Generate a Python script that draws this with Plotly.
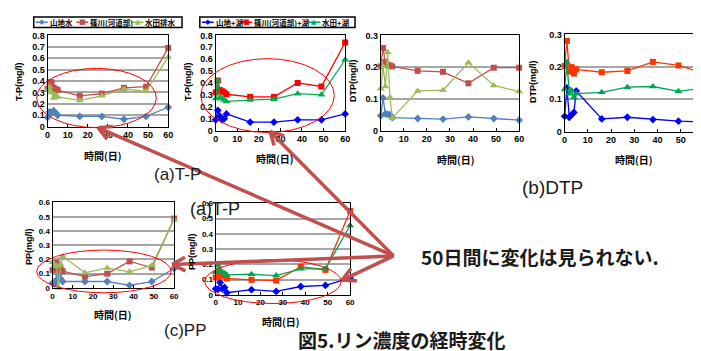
import math
import plotly.graph_objects as go

W, H = 701, 351

days = [0, 1, 2, 3, 4, 5, 16, 27, 38, 49, 60]
x_ticks = [0, 10, 20, 30, 40, 50, 60]

# (a) T-P  left panel
tp1_yama = [0.08, 0.13, 0.12, 0.14, 0.12, 0.10, 0.09, 0.09, 0.065, 0.09, 0.17]
tp1_shino = [0.33, 0.39, 0.39, 0.34, 0.33, 0.32, 0.27, 0.29, 0.34, 0.35, 0.69]
tp1_suiden = [0.32, 0.35, 0.30, 0.25, 0.28, 0.26, 0.23, 0.27, 0.33, 0.31, 0.61]
# (a) T-P  right panel (+湖)
tp2_yama = [0.09, 0.17, 0.12, 0.09, 0.10, 0.14, 0.07, 0.07, 0.09, 0.09, 0.14]
tp2_shino = [0.32, 0.42, 0.34, 0.33, 0.32, 0.305, 0.283, 0.283, 0.40, 0.37, 0.74]
tp2_suiden = [0.27, 0.42, 0.28, 0.27, 0.256, 0.245, 0.256, 0.264, 0.31, 0.30, 0.595]
# (b) DTP left
dtp1_yama = [0.047, 0.103, 0.053, 0.051, 0.050, 0.041, 0.038, 0.036, 0.043, 0.038, 0.033]
dtp1_shino = [0.202, 0.26, 0.216, 0.208, 0.205, 0.202, 0.188, 0.185, 0.149, 0.198, 0.198]
dtp1_suiden = [0.132, 0.202, 0.139, 0.247, 0.105, 0.039, 0.125, 0.127, 0.214, 0.142, 0.123]
# (b) DTP right
dtp2_yama = [0.047, 0.135, 0.044, 0.052, 0.059, 0.125, 0.039, 0.044, 0.037, 0.032, 0.029]
dtp2_shino = [0.202, 0.28, 0.185, 0.199, 0.179, 0.192, 0.183, 0.187, 0.215, 0.204, 0.18]
dtp2_suiden = [0.13, 0.215, 0.117, 0.127, 0.105, 0.117, 0.121, 0.137, 0.139, 0.124, 0.135]
# (c) PP left
pp1_yama = [0.034, 0.027, 0.057, 0.09, 0.063, 0.045, 0.045, 0.045, 0.018, 0.045, 0.136]
pp1_shino = [0.125, 0.13, 0.177, 0.125, 0.13, 0.118, 0.08, 0.10, 0.186, 0.143, 0.487]
pp1_suiden = [0.18, 0.154, 0.154, 0.0, 0.165, 0.222, 0.106, 0.14, 0.113, 0.158, 0.48]
# (c) PP right
pp2_yama = [0.039, 0.035, 0.08, 0.039, 0.048, 0.013, 0.033, 0.022, 0.054, 0.061, 0.109]
pp2_shino = [0.113, 0.12, 0.146, 0.124, 0.13, 0.107, 0.098, 0.093, 0.185, 0.163, 0.55]
pp2_suiden = [0.148, 0.196, 0.163, 0.148, 0.141, 0.13, 0.135, 0.126, 0.17, 0.17, 0.455]

legend1_names = ["山地水", "篠川(河道部)", "水田排水"]
legend2_names = ["山地+湖", "篠川(河道部)+湖", "水田+湖"]

C_XL = ["#4F81BD", "#C0504D", "#9BBB59"]
C_P2 = ["#0000FF", "#FF0000", "#00B050"]
C_P4 = ["#0000FF", "#FF3300", "#00A650"]
SYMS = ["diamond", "square", "triangle-up"]


def fx(p):
    return p / W


def fy(p):
    return 1 - p / H


panels = [
    ([tp1_yama, tp1_shino, tp1_suiden], C_XL, (37, 159), (23, 117), 0.8, True, "T-P(mg/l)", (8, 70), (93, 147), 9),
    ([tp2_yama, tp2_shino, tp2_suiden], C_P2, (207, 338), (23, 121), 0.8, False, "T-P(mg/l)", (179, 70), (267, 150), 9),
    ([dtp1_yama, dtp1_shino, dtp1_suiden], C_XL, (374, 514), (23, 121), 0.3, True, "DTP(mg/l)", (346, 70), (450, 151), 9),
    ([dtp2_yama, dtp2_shino, dtp2_suiden], C_P4, (560, 701), (22, 122), 0.3, True, "DTP(mg/l)", (528, 70), (630, 151), 9),
    ([pp1_yama, pp1_shino, pp1_suiden], C_XL, (42, 165), (195, 283), 0.6, True, "PP(mg/l)", (18, 240), (103, 310), 8),
    ([pp2_yama, pp2_shino, pp2_suiden], C_P4, (207, 343), (196, 290), 0.6, True, "PP(mg/l)", (183, 245), (273, 318), 8),
]

fig = go.Figure()
annotations = []
shapes = []
layout_axes = {}


def note(text, x, y, font, xanchor="center", angle=0):
    annotations.append(dict(x=fx(x), y=fy(y), xref="paper", yref="paper",
                            text=text, showarrow=False, xanchor=xanchor,
                            yanchor="middle", textangle=angle, font=font))


for i, (series, cols, xd, yd, ymax, grid, ytitle, ytpos, xtpos, tfs) in enumerate(panels, start=1):
    xa = "x" if i == 1 else f"x{i}"
    ya = "y" if i == 1 else f"y{i}"
    for s, c, sym in zip(series, cols, SYMS):
        fig.add_trace(go.Scatter(
            x=days, y=s, xaxis=xa, yaxis=ya, mode="lines+markers",
            line=dict(color=c, width=1.3),
            marker=dict(symbol=sym, size=6 if sym != "triangle-up" else 7, color=c),
            showlegend=False, cliponaxis=False))
    tickfont = dict(family="Liberation Sans", size=tfs, color="black", weight="bold")
    layout_axes["xaxis" if i == 1 else f"xaxis{i}"] = dict(
        domain=[fx(xd[0]), fx(xd[1])], range=[0, 60], anchor=ya,
        tickvals=x_ticks, ticks="inside", ticklen=3, tickcolor="black",
        showgrid=False, zeroline=False, showline=True, linecolor="black",
        linewidth=1, mirror=True, tickfont=tickfont)
    layout_axes["yaxis" if i == 1 else f"yaxis{i}"] = dict(
        domain=[fy(yd[1]), fy(yd[0])], range=[0, ymax], anchor=xa,
        dtick=0.1, tick0=0, ticks="", showgrid=grid, gridcolor="#A6A6A6",
        gridwidth=1.5, zeroline=False, showline=True, linecolor="black",
        linewidth=1, mirror=True, tickfont=tickfont)
    note(ytitle, ytpos[0], ytpos[1],
         dict(family="Liberation Sans", size=9, color="black", weight="bold"), angle=-90)
    note("時間(日)", xtpos[0], xtpos[1],
         dict(family="Noto Sans CJK JP", size=10, color="black", weight="bold"))


def add_legend(box, items, names, cols):
    shapes.append(dict(type="rect", xref="paper", yref="paper",
                       x0=fx(box[0]), x1=fx(box[1]), y0=fy(box[3]), y1=fy(box[2]),
                       line=dict(color="black", width=1.5), fillcolor="white"))
    ymid = (box[2] + box[3]) / 2
    chars = ["◆", "■", "▲"]
    for (l0, l1, tx), name, c, ch in zip(items, names, cols, chars):
        shapes.append(dict(type="line", xref="paper", yref="paper",
                           x0=fx(l0), x1=fx(l1), y0=fy(ymid), y1=fy(ymid),
                           line=dict(color=c, width=1.5)))
        note(ch, (l0 + l1) / 2, ymid, dict(family="DejaVu Sans", size=7, color=c))
        note(name, tx, ymid, dict(family="Noto Sans CJK JP", size=7.5, color="black", weight="bold"),
             xanchor="left")


add_legend((23, 173, 4, 15), [(25, 37, 37), (66, 78, 78), (122, 134, 134)], legend1_names, C_XL)
add_legend((191, 348, 4, 15), [(193, 205, 205), (232, 244, 244), (301, 313, 313)], legend2_names, C_P2)

for (x0, x1, y0, y1) in [(26, 147, 57, 118), (192, 327, 47, 123), (26, 162, 244, 288), (196, 334, 254, 299)]:
    shapes.append(dict(type="circle", xref="paper", yref="paper",
                       x0=fx(x0), x1=fx(x1), y0=fy(y1), y1=fy(y0),
                       line=dict(color="#FF0000", width=1)))

conv = (387, 250)
ac = "#C0504D"
for tip in [(88, 118), (262, 122), (163, 259), (335, 275)]:
    shapes.append(dict(type="line", xref="paper", yref="paper",
                       x0=fx(conv[0]), y0=fy(conv[1]), x1=fx(tip[0]), y1=fy(tip[1]),
                       line=dict(color=ac, width=3.5)))
    dx, dy = conv[0] - tip[0], conv[1] - tip[1]
    ang = math.atan2(dy, dx)
    for sgn in (-1, 1):
        a = ang + sgn * math.radians(28)
        bx, by = tip[0] + 15 * math.cos(a), tip[1] + 15 * math.sin(a)
        shapes.append(dict(type="line", xref="paper", yref="paper",
                           x0=fx(tip[0]), y0=fy(tip[1]), x1=fx(bx), y1=fy(by),
                           line=dict(color=ac, width=3.5)))


def cap(text, x, y, size, bold=False, family="Liberation Sans"):
    f = dict(family=family, size=size, color="#1a1a1a")
    if bold:
        f["weight"] = "bold"
    note(text, x, y, f)


cap("(a)T-P", 168, 166, 17)
cap("(a)T-P", 206, 202, 18)
cap("(b)DTP", 548, 180, 19)
cap("(c)PP", 177, 327, 17)
cap("図5.リン濃度の経時変化", 395, 336, 19, bold=True, family="Noto Sans CJK JP")
cap("50日間に変化は見られない.", 535, 251, 19, bold=True, family="Noto Sans CJK JP")

fig.update_layout(
    width=W, height=H, margin=dict(l=0, r=0, t=0, b=0),
    paper_bgcolor="white", plot_bgcolor="white", showlegend=False,
    annotations=annotations, shapes=shapes, **layout_axes)

fig.write_html("out.html")
